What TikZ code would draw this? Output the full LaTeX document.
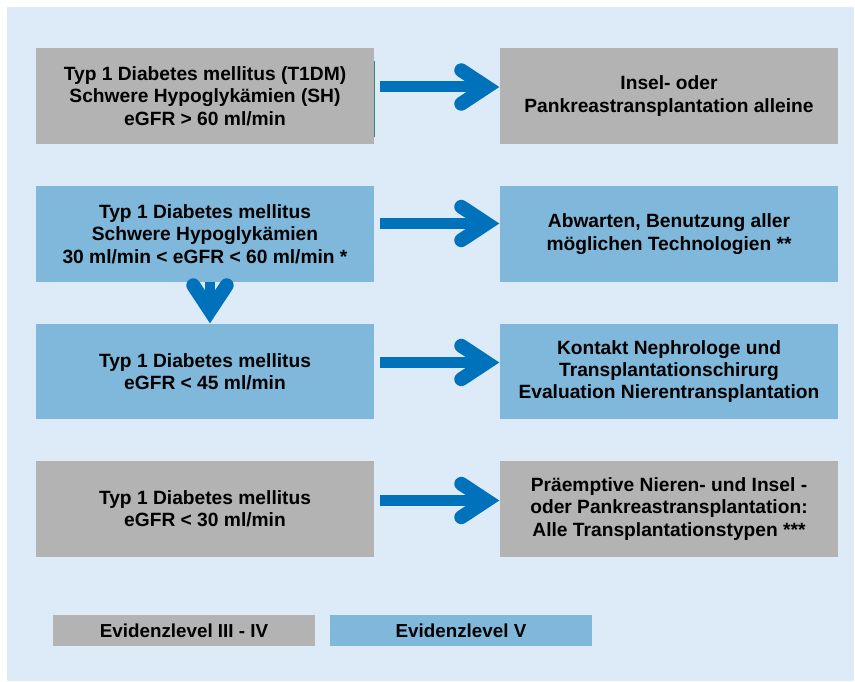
\documentclass[tikz,border=0pt]{standalone}
\usepackage{fontspec}
\setmainfont{Liberation Sans}
\usetikzlibrary{calc}
\definecolor{bgc}{RGB}{221,235,248}
\definecolor{grayc}{RGB}{179,179,179}
\definecolor{bluec}{RGB}{127,184,218}
\definecolor{arrc}{RGB}{0,114,188}
\definecolor{edgec}{RGB}{46,139,110}
\tikzset{
  boxbase/.style={minimum width=338pt, minimum height=96pt, inner sep=0pt, align=center,
    font=\fontsize{19.2}{22.3}\selectfont\bfseries},
  gbox/.style={boxbase, fill=grayc},
  bbox/.style={boxbase, fill=bluec},
  legbox/.style={minimum width=262pt, minimum height=31pt, inner sep=0pt,
    font=\fontsize{18.8}{20}\selectfont\bfseries},
  shaft/.style={draw=arrc, line width=11pt, line cap=butt},
  headline/.style={draw=arrc, line width=14pt, line cap=round, line join=miter},
}
\newcommand{\rarrowto}[3]{%
  \coordinate (tp) at ($(#2.west)+(0,#3)$);
  \draw[shaft] ($(#1.east)+(6,#3)$) -- ($(tp)+(-13.2,0)$);
  \draw[headline] ($(tp)+(-38.5,-16.7)$) -- ($(tp)+(-13.2,0)$) -- ($(tp)+(-38.5,16.7)$);
}
\begin{document}
\begin{tikzpicture}[x=1pt,y=-1pt]
\useasboundingbox (0,0) rectangle (855,682);
\fill[white] (0,0) rectangle (855,682);
\fill[bgc] (7,7) rectangle (854,681);

\node[gbox] (l1) at (205,96) {Typ 1 Diabetes mellitus (T1DM)\\Schwere Hypoglykämien (SH)\\eGFR > 60 ml/min};
\node[gbox] (r1) at (669,96) {Insel- oder\\Pankreastransplantation alleine};
\node[bbox] (l2) at (205,234) {Typ 1 Diabetes mellitus\\Schwere Hypoglykämien\\30 ml/min < eGFR < 60 ml/min *};
\node[bbox] (r2) at (669,234) {Abwarten, Benutzung aller\\möglichen Technologien **};
\node[bbox, minimum height=95pt] (l3) at (205,371.5) {Typ 1 Diabetes mellitus\\eGFR < 45 ml/min};
\node[bbox, minimum height=95pt] (r3) at (669,371.5) {Kontakt Nephrologe und\\Transplantationschirurg\\Evaluation Nierentransplantation};
\node[gbox] (l4) at (205,509) {Typ 1 Diabetes mellitus\\eGFR < 30 ml/min};
\node[gbox] (r4) at (669,509) {Präemptive Nieren- und Insel -\\oder Pankreastransplantation:\\Alle Transplantationstypen ***};

\draw[edgec, line width=1.5pt] ($(l1.north east)+(0.5,13)$) -- ($(l1.south east)+(0.5,-7)$);

\node[legbox, fill=grayc] (lg1) at (184,630.5) {Evidenzlevel III - IV};
\node[legbox, fill=bluec] (lg2) at (461,630.5) {Evidenzlevel V};

\rarrowto{l1}{r1}{-9}
\rarrowto{l2}{r2}{-10.5}
\rarrowto{l3}{r3}{-9}
\rarrowto{l4}{r4}{-8.5}

% down arrow
\coordinate (dt) at ($(l3.north)+(5,0)$);
\draw[shaft, line width=10pt] ($(l2.south)+(5,0)$) -- ($(dt)+(0,-13.2)$);
\draw[headline] ($(dt)+(-16.7,-38.5)$) -- ($(dt)+(0,-13.2)$) -- ($(dt)+(16.7,-38.5)$);
\end{tikzpicture}
\end{document}
